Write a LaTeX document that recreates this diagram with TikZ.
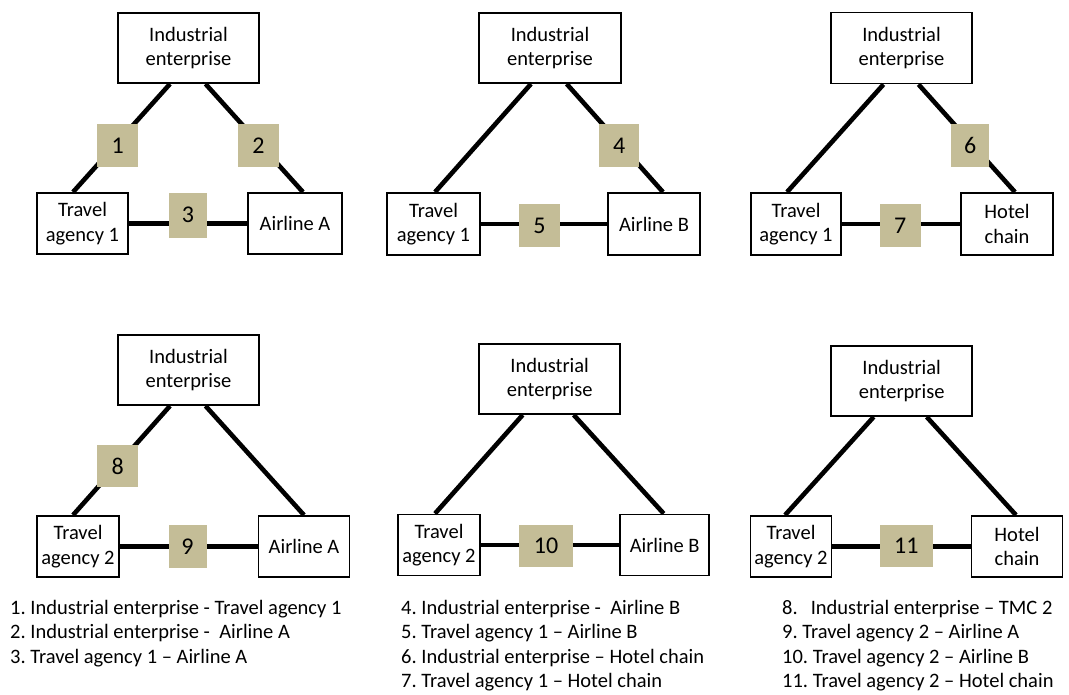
\documentclass[tikz,border=0pt]{standalone}
\usepackage{fontspec}
\setmainfont{Carlito}
\usetikzlibrary{calc}
\definecolor{tanlabel}{HTML}{C4BD97}
\frenchspacing
\begin{document}
\begin{tikzpicture}[x=1pt,y=-1pt,
  box/.style={draw=black,line width=1.8pt,inner sep=0pt,align=center,font=\fontsize{20.5}{24.5}\selectfont\frenchspacing},
  num/.style={fill=tanlabel,inner sep=0pt,font=\fontsize{24}{28}\selectfont},
  link/.style={line width=4.6pt},
  item/.style={anchor=base west,inner sep=0pt,font=\fontsize{20.5}{24.5}\selectfont\frenchspacing}]
\useasboundingbox (0,0) rectangle (1069,695);

% ---------- row 1 ----------
\node[box,minimum width=141,minimum height=70] (T1) at (188.5,48) {Industrial\\enterprise};
\node[box,minimum width=91,minimum height=61] (A1) at (82.5,223.5) {Travel\\agency 1};
\node[box,minimum width=94,minimum height=61] (B1) at (295,223.5) {Airline A};

\node[box,minimum width=142,minimum height=70] (T2) at (550,48) {Industrial\\enterprise};
\node[box,minimum width=93,minimum height=62] (A2) at (433.5,224) {Travel\\agency 1};
\node[box,minimum width=92,minimum height=62] (B2) at (654,224) {Airline B};

\node[box,minimum width=141,minimum height=71] (T3) at (901.5,48) {Industrial\\enterprise};
\node[box,minimum width=90,minimum height=62] (A3) at (796,224) {Travel\\agency 1};
\node[box,minimum width=92,minimum height=62] (B3) at (1007,224) {Hotel\\chain};

% ---------- row 2 ----------
\node[box,minimum width=141,minimum height=70] (T4) at (188.5,370) {Industrial\\enterprise};
\node[box,minimum width=82,minimum height=61] (A4) at (78,546.5) {Travel\\agency 2};
\node[box,minimum width=91,minimum height=61] (B4) at (304,546.5) {Airline A};

\node[box,minimum width=141,minimum height=70] (T5) at (549.7,379) {Industrial\\enterprise};
\node[box,minimum width=82,minimum height=61] (A5) at (439,545) {Travel\\agency 2};
\node[box,minimum width=89,minimum height=61] (B5) at (664.7,545) {Airline B};

\node[box,minimum width=141,minimum height=70] (T6) at (901.7,381) {Industrial\\enterprise};
\node[box,minimum width=81,minimum height=61] (A6) at (791,546.5) {Travel\\agency 2};
\node[box,minimum width=91,minimum height=61] (B6) at (1017,546.5) {Hotel\\chain};

% ---------- connectors ----------
\draw[link] ([xshift=-18.5pt]T1.south) -- ([xshift=-9.5pt]A1.north);
\draw[link] ([xshift=17pt]T1.south) -- ([xshift=8pt]B1.north);
\draw[link] (A1) -- (B1);

\draw[link] ([xshift=-19pt]T2.south) -- ([xshift=1.5pt]A2.north);
\draw[link] ([xshift=16.7pt]T2.south) -- ([xshift=9pt]B2.north);
\draw[link] (A2) -- (B2);

\draw[link] ([xshift=-18pt]T3.south) -- ([xshift=-9pt]A3.north);
\draw[link] ([xshift=17pt]T3.south) -- ([xshift=8pt]B3.north);
\draw[link] (A3) -- (B3);

\draw[link] ([xshift=-18.5pt]T4.south) -- ([xshift=-5pt]A4.north);
\draw[link] ([xshift=17pt]T4.south) -- ([xshift=0pt]B4.north);
\draw[link] (A4) -- (B4);

\draw[link] ([xshift=-27pt]T5.south) -- ([xshift=-4pt]A5.north);
\draw[link] ([xshift=24pt]T5.south) -- ([xshift=-1pt]B5.north);
\draw[link] (A5) -- (B5);

\draw[link] ([xshift=-28pt]T6.south) -- ([xshift=-6pt]A6.north);
\draw[link] ([xshift=25pt]T6.south) -- ([xshift=-1pt]B6.north);
\draw[link] (A6) -- (B6);

% ---------- number labels ----------
\node[num,minimum width=41,minimum height=43] (n1) at (117.8,145.3) {1};
\node[num,minimum width=41,minimum height=43] (n2) at (258.5,145.3) {2};
\node[num,minimum width=38,minimum height=45] (n3) at (188,215.2) {3};
\node[num,minimum width=40,minimum height=43] (n4) at (619.2,145.3) {4};
\node[num,minimum width=41,minimum height=43] (n5) at (539.5,225.5) {5};
\node[num,minimum width=38,minimum height=43] (n6) at (970.2,145.3) {6};
\node[num,minimum width=41,minimum height=43] (n7) at (900.3,225.5) {7};
\node[num,minimum width=41,minimum height=42] (n8) at (117.8,466) {8};
\node[num,minimum width=38,minimum height=43] (n9) at (187.5,546.3) {9};
\node[num,minimum width=54,minimum height=42] (n10) at (546,546.2) {10};
\node[num,minimum width=53,minimum height=42] (n11) at (906.3,546) {11};

% ---------- legend ----------
\node[item] (l1) at (10,614) {1. Industrial enterprise - Travel agency 1};
\node[item] (l2) at (10,638.5) {2. Industrial enterprise -\ \ Airline A};
\node[item] (l3) at (10,663) {3. Travel agency 1 – Airline A};
\node[item] (l4) at (401,614) {4. Industrial enterprise -\ \ Airline B};
\node[item] (l5) at (401,638.5) {5. Travel agency 1 – Airline B};
\node[item] (l6) at (401,663) {6. Industrial enterprise – Hotel chain};
\node[item] (l7) at (401,687.5) {7. Travel agency 1 – Hotel chain};
\node[item] (l8) at (782,614) {8.\hspace{13pt}Industrial enterprise – TMC 2};
\node[item] (l9) at (782,638.5) {9. Travel agency 2 – Airline A};
\node[item] (l10) at (782,663) {10. Travel agency 2 – Airline B};
\node[item] (l11) at (782,687.5) {11. Travel agency 2 – Hotel chain};
\end{tikzpicture}
\end{document}
